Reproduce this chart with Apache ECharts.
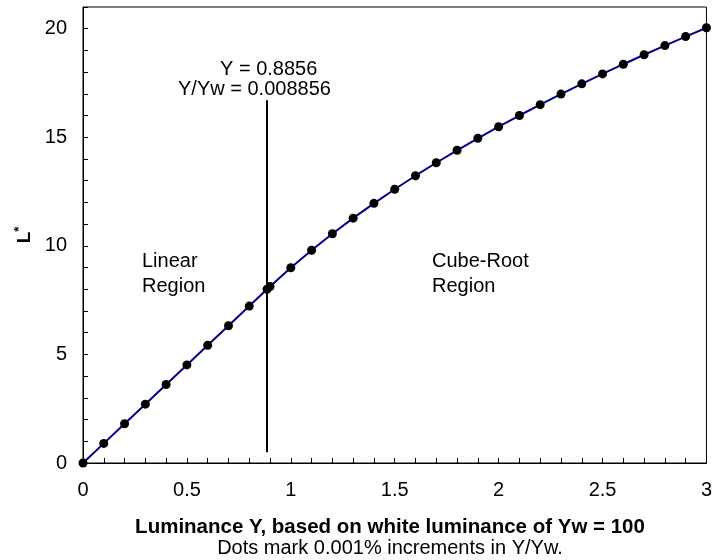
<!DOCTYPE html>
<html>
<head>
<meta charset="utf-8">
<script src="https://cdn.jsdelivr.net/npm/echarts@6/dist/echarts.min.js"></script>
<style>
  html, body { margin: 0; padding: 0; background: #fff; }
  #chart { width: 715px; height: 560px; }
</style>
</head>
<body>
<div id="chart"></div>
<script>
// Luminance Y (white = 100) sampled every 0.1, plus the linear/cube-root threshold
const luminanceY = [0, 0.1, 0.2, 0.3, 0.4, 0.5, 0.6, 0.7, 0.8, 0.8856, 0.9,
  1.0, 1.1, 1.2, 1.3, 1.4, 1.5, 1.6, 1.7, 1.8, 1.9, 2.0,
  2.1, 2.2, 2.3, 2.4, 2.5, 2.6, 2.7, 2.8, 2.9, 3.0];
// Corresponding lightness L*
const lightness = [0, 0.903, 1.807, 2.710, 3.613, 4.517, 5.420, 6.323, 7.226, 8.000, 8.129,
  8.991, 9.798, 10.557, 11.275, 11.958, 12.608, 13.230, 13.827, 14.401, 14.953, 15.487,
  16.003, 16.504, 16.989, 17.460, 17.919, 18.365, 18.800, 19.224, 19.639, 20.044];

// Threshold marker: Y = 0.8856 (Y/Yw = 0.008856)
const thresholdY = 0.8856;
const thresholdSpan = [0.5, 16.7];

const xTickLabels = ['0', '0.5', '1', '1.5', '2', '2.5', '3'];
const yTickLabels = ['0', '5', '10', '15', '20'];

const points = luminanceY.map((x, i) => [x, lightness[i]]);
const font = 'Liberation Sans, Arial, sans-serif';

const chart = echarts.init(document.getElementById('chart'));
chart.setOption({
  animation: false,
  backgroundColor: '#fff',
  textStyle: { fontFamily: font },
  grid: {
    left: 83, right: 7, top: 7, bottom: 97,
    show: true, borderColor: '#000', borderWidth: 1
  },
  xAxis: {
    type: 'value', min: 0, max: 3, interval: 0.1,
    axisLine: { lineStyle: { color: '#000', width: 1 } },
    axisTick: { inside: true, length: 5, lineStyle: { color: '#000' } },
    splitLine: { show: false },
    axisLabel: {
      color: '#000', fontSize: 20, margin: 17, fontFamily: font,
      formatter: v => {
        const s = String(Math.round(v * 10) / 10);
        return xTickLabels.includes(s) ? s : '';
      }
    }
  },
  yAxis: {
    type: 'value', min: 0, max: 21, interval: 1,
    axisLine: { lineStyle: { color: '#000', width: 1 } },
    axisTick: { inside: true, length: 5, lineStyle: { color: '#000' } },
    splitLine: { show: false },
    axisLabel: {
      color: '#000', fontSize: 20, margin: 16, fontFamily: font,
      formatter: v => {
        const s = String(Math.round(v));
        return yTickLabels.includes(s) ? s : '';
      }
    },
    name: '{a|L}{b|*}',
    nameLocation: 'middle', nameGap: 44, nameRotate: 90,
    nameTextStyle: {
      rich: {
        a: { fontSize: 19, fontWeight: 'bold', color: '#000', fontFamily: font },
        b: { fontSize: 13, fontWeight: 'bold', color: '#000', fontFamily: font, verticalAlign: 'top', padding: [0, 0, 9, 0] }
      }
    }
  },
  series: [
    {
      type: 'line',
      data: points,
      showSymbol: false,
      lineStyle: { color: '#000090', width: 2 },
      clip: false,
      z: 2,
      markLine: {
        silent: true,
        symbol: 'none',
        label: { show: false },
        lineStyle: { color: '#000', width: 2, type: 'solid' },
        data: [[{ coord: [thresholdY, thresholdSpan[0]] }, { coord: [thresholdY, thresholdSpan[1]] }]]
      }
    },
    {
      type: 'scatter',
      data: points,
      symbol: 'circle',
      symbolSize: 9,
      itemStyle: { color: '#000', opacity: 1 },
      clip: false,
      z: 3
    }
  ],
  graphic: [
    { type: 'text', left: 220, top: 59, style: { text: 'Y = 0.8856', fontSize: 20, fill: '#000', fontFamily: font } },
    { type: 'text', left: 178, top: 79, style: { text: 'Y/Yw = 0.008856', fontSize: 20, fill: '#000', fontFamily: font } },
    { type: 'text', left: 142, top: 249, style: { text: 'Linear\nRegion', fontSize: 20, lineHeight: 25, fill: '#000', fontFamily: font } },
    { type: 'text', left: 432, top: 249, style: { text: 'Cube-Root\nRegion', fontSize: 20, lineHeight: 25, fill: '#000', fontFamily: font } },
    { type: 'text', x: 390, y: 517, style: { text: 'Luminance Y, based on white luminance of Yw = 100', fontSize: 20.5, fontWeight: 'bold', fill: '#000', fontFamily: font, textAlign: 'center' } },
    { type: 'text', x: 390, y: 538, style: { text: 'Dots mark 0.001% increments in Y/Yw.', fontSize: 20, fill: '#000', fontFamily: font, textAlign: 'center' } }
  ]
});
</script>
</body>
</html>
